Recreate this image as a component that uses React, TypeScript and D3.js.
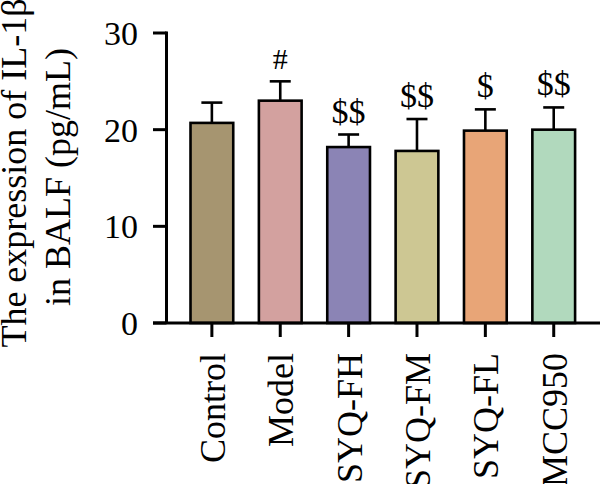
import React from 'react';
import * as d3 from 'd3';

const groups = ['Control', 'Model', 'SYQ-FH', 'SYQ-FM', 'SYQ-FL', 'MCC950'];
const means = [20.7, 23.0, 18.2, 17.8, 19.9, 20.0];
const errors = [2.1, 2.0, 1.3, 3.3, 2.2, 2.3];
const marks = ['', '#', '$$', '$$', '$', '$$'];
const colors = ['#a69570', '#d3a19f', '#8b84b5', '#cdc793', '#e8a577', '#b1d9bd'];
const yTicks = [0, 10, 20, 30];

const W = 600;
const H = 484;
const font = '"Liberation Serif", "Times New Roman", serif';

const App = () => {
  const x = d3.scaleBand<string>().domain(groups).range([170, 595.6]).paddingInner(0.375).paddingOuter(0.3);
  const y = d3.scaleLinear().domain([0, 30]).range([323, 33]);
  const axisX = 166.5;
  const bw = x.bandwidth();
  const cap = 10.5;

  return (
    <svg width={W} height={H} style={{ position: 'absolute', left: 0, top: 0 }} fontFamily={font}>
      <rect width={W} height={H} fill="#fff" />

      {/* bars + error bars */}
      {groups.map((g, i) => {
        const x0 = x(g)!;
        const cx = x0 + bw / 2;
        const top = y(means[i]);
        const errTop = y(means[i] + errors[i]);
        return (
          <g key={g}>
            <line x1={cx} x2={cx} y1={top} y2={errTop} stroke="#000" strokeWidth={2.6} />
            <line x1={cx - cap} x2={cx + cap} y1={errTop} y2={errTop} stroke="#000" strokeWidth={2.6} />
            <rect x={x0} y={top} width={bw} height={y(0) - top} fill={colors[i]} stroke="#000" strokeWidth={2.6} />
            {marks[i] && (
              <text x={cx} y={errTop - 12} textAnchor="middle" fontSize={marks[i] === '#' ? 30 : 34}>
                {marks[i]}
              </text>
            )}
          </g>
        );
      })}

      {/* y axis */}
      <line x1={axisX} x2={axisX} y1={y(30) - 1.5} y2={y(0)} stroke="#000" strokeWidth={3} />
      {yTicks.map((t) => (
        <g key={t}>
          <line x1={153} x2={axisX} y1={y(t)} y2={y(t)} stroke="#000" strokeWidth={3} />
          <text x={138} y={y(t)} dy="0.35em" textAnchor="end" fontSize={34}>
            {t}
          </text>
        </g>
      ))}

      {/* x axis */}
      <line x1={153} x2={W} y1={y(0)} y2={y(0)} stroke="#000" strokeWidth={3} />
      {groups.map((g) => {
        const cx = x(g)! + bw / 2;
        return (
          <g key={g}>
            <line x1={cx} x2={cx} y1={y(0)} y2={y(0) + 14} stroke="#000" strokeWidth={3} />
            <text transform={`translate(${cx + 13},353) rotate(-90)`} textAnchor="end" fontSize={36}>
              {g}
            </text>
          </g>
        );
      })}

      {/* y axis title */}
      <text transform="translate(26,173) rotate(-90)" textAnchor="middle" fontSize={36}>
        The expression of IL-1β
      </text>
      <text transform="translate(70,177) rotate(-90)" textAnchor="middle" fontSize={36}>
        in BALF (pg/mL)
      </text>
    </svg>
  );
};

export default App;
